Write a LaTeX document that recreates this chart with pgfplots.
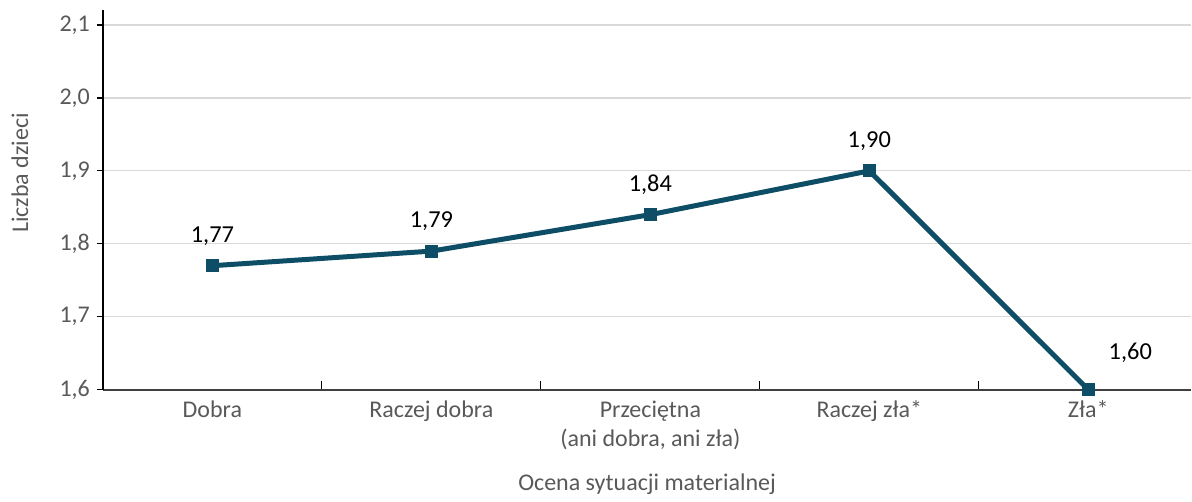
\documentclass[border=0pt]{standalone}
\usepackage{fontspec}
\setmainfont{Carlito}
\usepackage{pgfplots}
\pgfplotsset{compat=1.18}
\definecolor{lineteal}{HTML}{0D4E66}
\definecolor{ticktext}{HTML}{595959}
\definecolor{gridgray}{HTML}{D9D9D9}

\begin{document}
\begin{tikzpicture}
\begin{axis}[
    scale only axis,
    width=544.5pt, height=190pt,
    xmin=-0.5, xmax=4.47,
    ymin=1.6, ymax=2.1205,
    axis x line*=bottom, axis y line*=left,
    x axis line style={draw=black!75, line width=0.8pt},
    y axis line style={draw=black, line width=0.8pt},
    xtick={0,1,2,3,4},
    xticklabels={Dobra, Raczej dobra, {Przeciętna\\(ani dobra, ani zła)}, Raczej zła*, Zła*},
    major x tick style={draw=none},
    minor xtick={0.5,1.5,2.5,3.5},
    minor tick length=4.5pt,
    minor x tick style={draw=black, line width=0.6pt},
    xtick pos=bottom, xtick align=inside,
    ytick={1.6,1.7,1.8,1.9,2.0,2.1},
    ytick pos=left, ytick align=outside,
    major tick length=3pt,
    major y tick style={draw=black, line width=0.6pt},
    ymajorgrids,
    grid style={draw=gridgray, line width=0.6pt},
    tick label style={font=\fontsize{12}{14.5}\selectfont, text=ticktext},
    xticklabel style={align=center, yshift=-2pt},
    yticklabel style={/pgf/number format/.cd, fixed, fixed zerofill, precision=1, use comma, assume math mode=true},
    xlabel={Ocena sytuacji materialnej},
    ylabel={Liczba dzieci},
    label style={font=\fontsize{12}{14.5}\selectfont, text=ticktext},
    xlabel style={at={(axis description cs:0.5,-0.25)}, anchor=center},
    ylabel style={at={(axis description cs:-0.0762,0.571)}, anchor=center, rotate=0},
    nodes near coords={\pgfmathprintnumber[fixed, fixed zerofill, precision=2, use comma, assume math mode=true]{\pgfplotspointmeta}},
    nodes near coords align=center,
    every node near coord/.append style={font=\fontsize{12.2}{14.5}\selectfont, text=black, anchor=center, yshift=15pt},
    coordinate style/.condition={x==4}{xshift=21pt, yshift=3.5pt},
    clip=false,
]
\addplot[lineteal, line width=2.5pt, mark=square*, mark size=3pt, mark options={fill=lineteal, draw=lineteal, line width=0pt}] coordinates {
  (0, 1.77) (1, 1.79) (2, 1.84) (3, 1.90) (4, 1.60)
};
\end{axis}
\path[use as bounding box] (-51.5pt,-52.5pt) rectangle (544.5pt,195pt);
\end{tikzpicture}
\end{document}
